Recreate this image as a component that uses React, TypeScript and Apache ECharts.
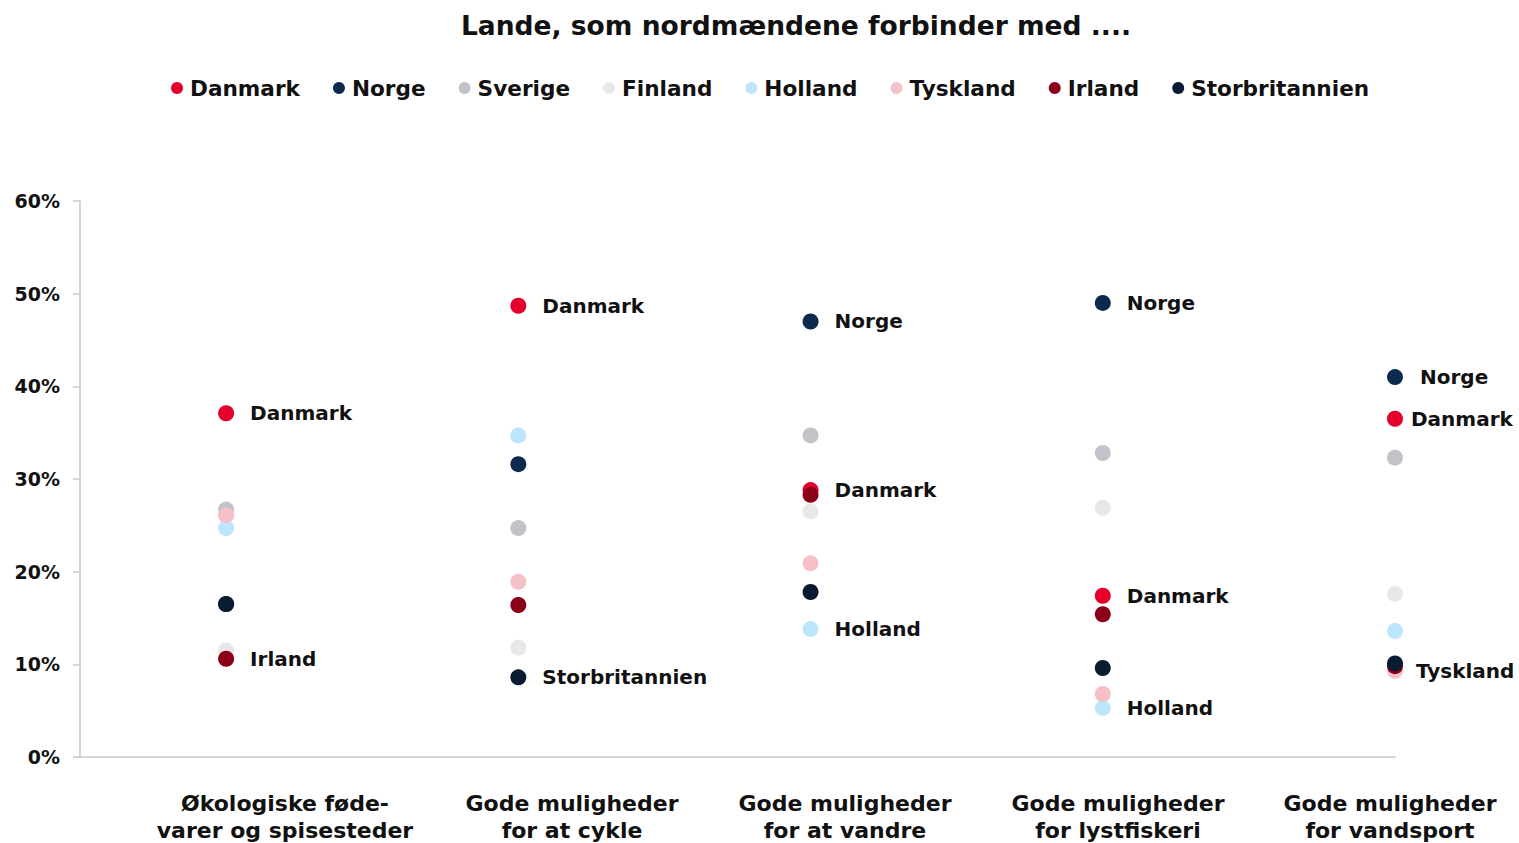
import React, { useEffect, useRef } from "react";
import * as echarts from "echarts";

const seriesNames = ["Danmark", "Norge", "Sverige", "Finland", "Holland", "Tyskland", "Irland", "Storbritannien"];
const colors = ["#e4002b", "#0c2a4d", "#c2c3c8", "#e8e8ea", "#bde5fb", "#f5c0c7", "#8a0018", "#0a1a30"];
const categories = [
  "Økologiske føde-\nvarer og spisesteder",
  "Gode muligheder\nfor at cykle",
  "Gode muligheder\nfor at vandre",
  "Gode muligheder\nfor lystfiskeri",
  "Gode muligheder\nfor vandsport",
];
const xPositions = [0.5, 1.5, 2.5, 3.5, 4.5];
const yTicks = [0, 10, 20, 30, 40, 50, 60];

const danmark = [37.1, 48.7, 28.8, 17.4, 36.5];
const norge = [16.5, 31.6, 47.0, 49.0, 41.0];
const sverige = [26.7, 24.7, 34.7, 32.8, 32.3];
const finland = [11.5, 11.8, 26.5, 26.9, 17.6];
const holland = [24.7, 34.7, 13.8, 5.3, 13.6];
const tyskland = [26.1, 18.9, 20.9, 6.8, 9.3];
const irland = [10.6, 16.4, 28.3, 15.4, 9.8];
const storbritannien = [16.5, 8.6, 17.8, 9.6, 10.1];
const values = [danmark, norge, sverige, finland, holland, tyskland, irland, storbritannien];

// labelled points: category index -> label distance
const labelled: Record<string, Record<number, number>> = {
  Danmark: { 0: 16, 1: 16, 2: 16, 3: 16, 4: 8 },
  Norge: { 2: 16, 3: 16, 4: 17 },
  Holland: { 2: 16, 3: 16 },
  Tyskland: { 4: 13 },
  Irland: { 0: 16 },
  Storbritannien: { 1: 16 },
};

const categoryCenters = [285, 572, 845, 1118, 1390];
const FONT = "DejaVu Sans";

export default function App() {
  const ref = useRef<HTMLDivElement>(null);
  useEffect(() => {
    document.body.style.margin = "0";
    const chart = echarts.init(ref.current!, null, { renderer: "svg" });
    const series = seriesNames.map((name, si) => ({
      name,
      type: "scatter",
      symbol: "circle",
      symbolSize: 16,
      itemStyle: { color: colors[si], opacity: 1 },
      data: values[si].map((v, ci) => {
        const d = (labelled[name] || {})[ci];
        return {
          value: [xPositions[ci], v],
          label: {
            show: d !== undefined,
            position: "right",
            distance: d ?? 16,
            formatter: name,
            color: "#111111",
            fontFamily: FONT,
            fontWeight: "bold",
            fontSize: 20,
          },
        };
      }),
    }));
    chart.setOption({
      animation: false,
      backgroundColor: "#ffffff",
      title: {
        text: "Lande, som nordmændene forbinder med ....",
        left: 791,
        textAlign: "center",
        top: 7,
        textStyle: { fontFamily: FONT, fontWeight: "bold", fontSize: 26.5, color: "#111111" },
      },
      legend: {
        data: seriesNames,
        top: 72,
        left: 166,
        icon: "circle",
        itemWidth: 12,
        itemHeight: 12,
        itemGap: 33,
        textStyle: { fontFamily: FONT, fontWeight: "bold", fontSize: 21.6, color: "#111111", padding: [0, 0, 0, 2] },
      },
      grid: { left: 80, right: 124, top: 201, bottom: 86, containLabel: false },
      xAxis: {
        type: "value",
        min: 0,
        max: 4.5,
        axisLine: { show: true, lineStyle: { color: "#c8c8c8", width: 1.5 } },
        axisTick: { show: false },
        axisLabel: { show: false },
        splitLine: { show: false },
      },
      yAxis: {
        type: "value",
        min: yTicks[0],
        max: yTicks[yTicks.length - 1],
        interval: 10,
        axisLine: { show: true, lineStyle: { color: "#c8c8c8", width: 1.5 } },
        axisTick: { show: true, length: 7, lineStyle: { color: "#c8c8c8", width: 1.5 } },
        axisLabel: {
          formatter: (v: number) => v + "%",
          fontFamily: FONT,
          fontWeight: "bold",
          fontSize: 19,
          color: "#111111",
          margin: 20,
        },
        splitLine: { show: false },
      },
      graphic: categories.map((c, i) => ({
        type: "text",
        x: categoryCenters[i],
        y: 790,
        style: {
          text: c,
          textAlign: "center",
          fontFamily: FONT,
          fontWeight: "bold",
          fontSize: 22,
          lineHeight: 27,
          fill: "#111111",
        },
      })),
      series,
    });
    return () => chart.dispose();
  }, []);
  return <div ref={ref} style={{ width: 1519, height: 843 }} />;
}
